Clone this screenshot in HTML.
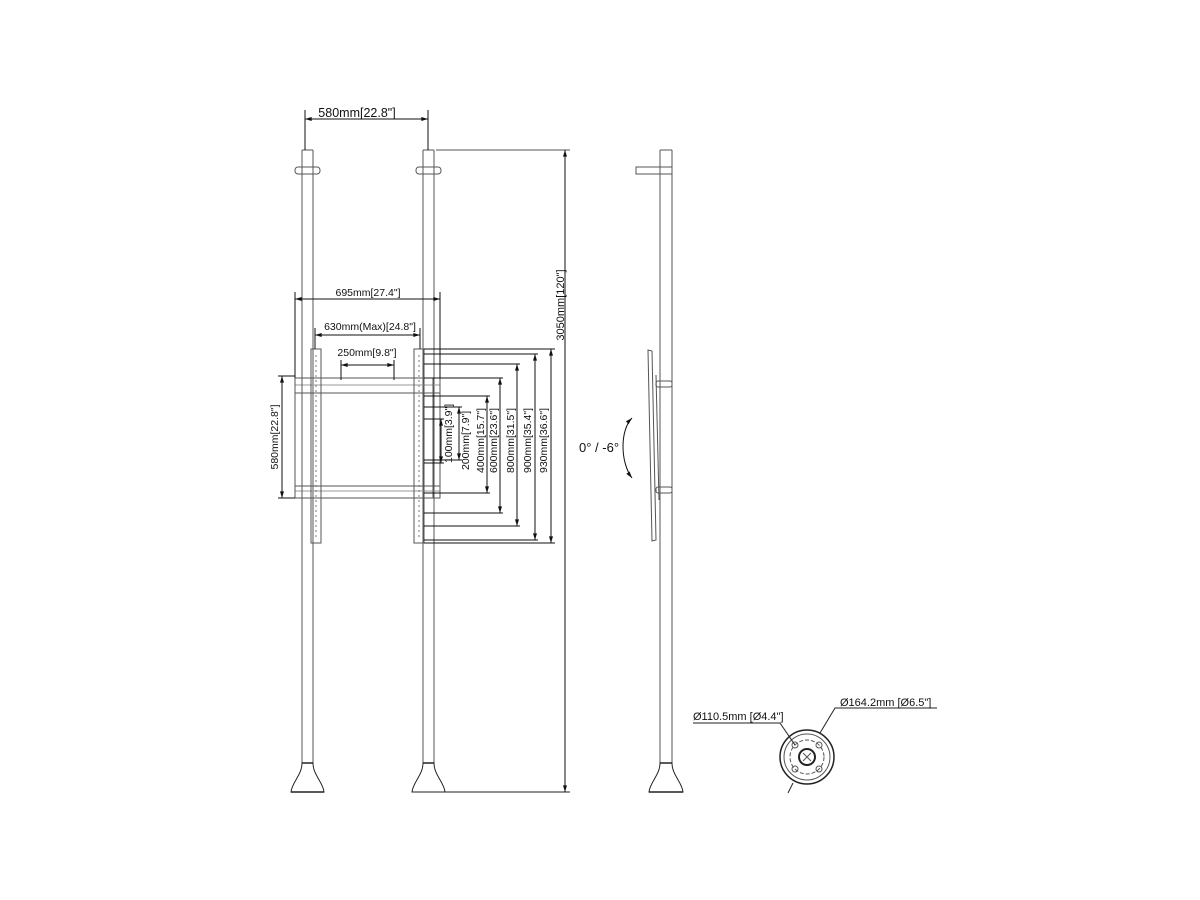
<!DOCTYPE html>
<html><head><meta charset="utf-8"><style>
html,body{margin:0;padding:0;background:#fff;}
svg{display:block;}
text{font-family:"Liberation Sans",sans-serif;font-size:10.5px;fill:#111;}
</style></head><body>
<svg width="1200" height="900" viewBox="0 0 1200 900" xmlns="http://www.w3.org/2000/svg">
<defs>
<marker id="a" viewBox="0 0 10 6" refX="10" refY="3" markerWidth="7" markerHeight="4" orient="auto-start-reverse"><path d="M0,0L10,3L0,6z" fill="#111"/></marker>
</defs>
<g fill="none" stroke="#555" stroke-width="1">
<line x1="302" y1="150" x2="302" y2="763"/><line x1="313" y1="150" x2="313" y2="763"/>
<line x1="302" y1="150" x2="313" y2="150"/>
<path d="M302,763 C302,775 292,782 291,792 L324,792 C323,782 313,775 313,763 Z" stroke="#222"/>
<line x1="302" y1="763" x2="313" y2="763" stroke="#222" stroke-width="1.5"/>
<line x1="291" y1="792" x2="324" y2="792" stroke="#222" stroke-width="1.5"/>
<rect x="295" y="167" width="25" height="7" rx="3"/>
<line x1="423" y1="150" x2="423" y2="763"/><line x1="434" y1="150" x2="434" y2="763"/>
<line x1="423" y1="150" x2="434" y2="150"/>
<path d="M423,763 C423,775 413,782 412,792 L445,792 C444,782 434,775 434,763 Z" stroke="#222"/>
<line x1="423" y1="763" x2="434" y2="763" stroke="#222" stroke-width="1.5"/>
<rect x="416" y="167" width="25" height="7" rx="3"/>
<line x1="436" y1="150" x2="570" y2="150"/>
<line x1="445" y1="792" x2="570" y2="792" stroke="#222"/>
<line x1="565" y1="150" x2="565" y2="792" stroke="#111" marker-start="url(#a)" marker-end="url(#a)"/>
<line x1="305" y1="110" x2="305" y2="150" stroke="#111"/><line x1="428" y1="110" x2="428" y2="150" stroke="#111"/>
<line x1="305" y1="119" x2="428" y2="119" stroke="#111" marker-start="url(#a)" marker-end="url(#a)"/>
<rect x="295" y="378" width="145" height="15"/>
<line x1="295" y1="385" x2="440" y2="385" stroke="#999"/>
<rect x="295" y="486" width="145" height="12"/>
<line x1="295" y1="491" x2="440" y2="491" stroke="#999"/>
<rect x="295" y="378" width="7" height="120"/>
<rect x="433" y="378" width="7" height="120"/>
<rect x="311" y="349" width="10" height="194"/>
<rect x="414" y="349" width="10" height="194"/>
<line x1="316" y1="355" x2="316" y2="540" stroke="#777" stroke-dasharray="2,3"/>
<line x1="419" y1="355" x2="419" y2="540" stroke="#777" stroke-dasharray="2,3"/>
<line x1="295" y1="292" x2="295" y2="378" stroke="#111"/><line x1="440" y1="292" x2="440" y2="378" stroke="#111"/>
<line x1="295" y1="299" x2="440" y2="299" stroke="#111" marker-start="url(#a)" marker-end="url(#a)"/>
<line x1="315" y1="328" x2="315" y2="349" stroke="#111"/><line x1="420" y1="328" x2="420" y2="349" stroke="#111"/>
<line x1="315" y1="335" x2="420" y2="335" stroke="#111" marker-start="url(#a)" marker-end="url(#a)"/>
<line x1="341" y1="360" x2="341" y2="380" stroke="#111"/><line x1="394" y1="360" x2="394" y2="380" stroke="#111"/>
<line x1="341" y1="365" x2="394" y2="365" stroke="#111" marker-start="url(#a)" marker-end="url(#a)"/>
<line x1="278" y1="376" x2="295" y2="376" stroke="#111"/><line x1="278" y1="498" x2="295" y2="498" stroke="#111"/>
<line x1="282" y1="376" x2="282" y2="498" stroke="#111" marker-start="url(#a)" marker-end="url(#a)"/>
<g stroke="#111">
<line x1="424" y1="349" x2="555" y2="349"/><line x1="424" y1="543" x2="555" y2="543"/>
<line x1="551" y1="349" x2="551" y2="543" marker-start="url(#a)" marker-end="url(#a)"/>
<line x1="424" y1="354" x2="538" y2="354"/><line x1="424" y1="540" x2="538" y2="540"/>
<line x1="535" y1="354" x2="535" y2="540" marker-start="url(#a)" marker-end="url(#a)"/>
<line x1="424" y1="364" x2="520" y2="364"/><line x1="424" y1="526" x2="520" y2="526"/>
<line x1="517" y1="364" x2="517" y2="526" marker-start="url(#a)" marker-end="url(#a)"/>
<line x1="424" y1="378" x2="503" y2="378"/><line x1="424" y1="513" x2="503" y2="513"/>
<line x1="500" y1="378" x2="500" y2="513" marker-start="url(#a)" marker-end="url(#a)"/>
<line x1="424" y1="396" x2="490" y2="396"/><line x1="424" y1="493" x2="490" y2="493"/>
<line x1="487" y1="396" x2="487" y2="493" marker-start="url(#a)" marker-end="url(#a)"/>
<line x1="424" y1="407" x2="462" y2="407"/><line x1="424" y1="460" x2="462" y2="460"/>
<line x1="459" y1="407" x2="459" y2="460" marker-start="url(#a)" marker-end="url(#a)"/>
<line x1="424" y1="419" x2="444" y2="419"/><line x1="424" y1="463" x2="444" y2="463"/>
<line x1="441" y1="419" x2="441" y2="463" marker-start="url(#a)" marker-end="url(#a)"/>
</g>
<line x1="660" y1="150" x2="660" y2="763"/><line x1="672" y1="150" x2="672" y2="763"/>
<line x1="660" y1="150" x2="672" y2="150"/>
<path d="M660,763 C660,775 650,782 649,792 L683,792 C682,782 672,775 672,763 Z" stroke="#222"/>
<line x1="660" y1="763" x2="672" y2="763" stroke="#222" stroke-width="1.5"/>
<line x1="649" y1="792" x2="683" y2="792" stroke="#222" stroke-width="1.5"/>
<rect x="636" y="167" width="36" height="7"/>
<path d="M648,350 L652,351 L656,540 L652,541 Z"/>
<line x1="656" y1="375" x2="659" y2="500"/>
<rect x="656" y="381" width="16" height="6" rx="2"/>
<rect x="656" y="487" width="16" height="6" rx="2"/>
<path d="M632,418 C620,430 620,462 632,478" stroke="#111" marker-start="url(#a)" marker-end="url(#a)"/>
<circle cx="807" cy="757" r="27" stroke="#222" stroke-width="1.5"/>
<circle cx="807" cy="757" r="23"/>
<circle cx="807" cy="757" r="17" stroke-dasharray="4,2"/>
<circle cx="807" cy="757" r="8" stroke="#222" stroke-width="2"/>
<path d="M803,753 L811,761 M811,753 L803,761"/>
<circle cx="795" cy="745" r="3"/><circle cx="819" cy="745" r="3"/>
<circle cx="795" cy="769" r="3"/><circle cx="819" cy="769" r="3"/>
<polyline points="693,723 780,723 795,745" stroke="#222"/>
<polyline points="937,708 835,708 820,733" stroke="#222"/>
<line x1="793" y1="783" x2="788" y2="793" stroke="#222"/>
</g>
<text x="357" y="117" text-anchor="middle" style="font-size:12.5px">580mm[22.8"]</text>
<text x="368" y="296" text-anchor="middle">695mm[27.4"]</text>
<text x="370" y="330" text-anchor="middle">630mm(Max)[24.8"]</text>
<text x="367" y="356" text-anchor="middle">250mm[9.8"]</text>
<text transform="translate(278,437) rotate(-90)" text-anchor="middle">580mm[22.8"]</text>
<text transform="translate(564,305) rotate(-90)" text-anchor="middle" style="font-size:11px">3050mm[120"]</text>
<text transform="translate(452,463) rotate(-90)">100mm[3.9"]</text>
<text transform="translate(469,470) rotate(-90)">200mm[7.9"]</text>
<text transform="translate(484,473) rotate(-90)">400mm[15.7"]</text>
<text transform="translate(497,473) rotate(-90)">600mm[23.6"]</text>
<text transform="translate(514,473) rotate(-90)">800mm[31.5"]</text>
<text transform="translate(531,473) rotate(-90)">900mm[35.4"]</text>
<text transform="translate(547,473) rotate(-90)">930mm[36.6"]</text>
<text x="579" y="452" style="font-size:13px">0° / -6°</text>
<text x="693" y="720" style="font-size:11px">Ø110.5mm [Ø4.4"]</text>
<text x="840" y="706" style="font-size:11px">Ø164.2mm [Ø6.5"]</text>
</svg>
</body></html>
